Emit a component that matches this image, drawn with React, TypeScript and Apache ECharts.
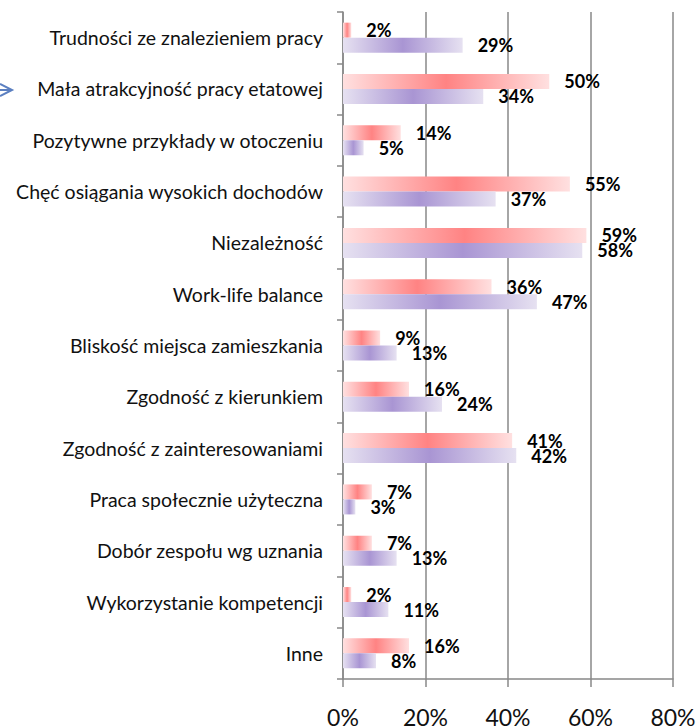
import React, { useEffect, useRef } from "react";
import * as echarts from "echarts";

const categories = [
  "Trudności ze znalezieniem pracy",
  "Mała atrakcyjność pracy etatowej",
  "Pozytywne przykłady w otoczeniu",
  "Chęć osiągania wysokich dochodów",
  "Niezależność",
  "Work-life balance",
  "Bliskość miejsca zamieszkania",
  "Zgodność z kierunkiem",
  "Zgodność z zainteresowaniami",
  "Praca społecznie użyteczna",
  "Dobór zespołu wg uznania",
  "Wykorzystanie kompetencji",
  "Inne",
];
const seriesPink = [2, 50, 14, 55, 59, 36, 9, 16, 41, 7, 7, 2, 16];
const seriesPurple = [29, 34, 5, 37, 58, 47, 13, 24, 42, 3, 13, 11, 8];
const xTicks = [0, 20, 40, 60, 80];

const FONT = "Lato, 'Noto Sans', sans-serif";

function grad(end: string, mid: string) {
  return new echarts.graphic.LinearGradient(0, 0, 1, 0, [
    { offset: 0, color: end },
    { offset: 0.5, color: mid },
    { offset: 1, color: end },
  ]);
}

export default function App() {
  const ref = useRef<HTMLDivElement>(null);
  useEffect(() => {
    if (!ref.current) return;
    const chart = echarts.init(ref.current, null, { renderer: "svg" });
    const labelCfg = {
      show: true,
      position: "right",
      distance: 15,
      formatter: "{c}%",
      color: "#000",
      fontWeight: "bold",
      fontSize: 18,
      fontFamily: FONT,
    };
    chart.setOption({
      animation: false,
      backgroundColor: "#fff",
      grid: { left: 343, right: 26, top: 12, bottom: 46, containLabel: false },
      xAxis: {
        type: "value",
        min: xTicks[0],
        max: xTicks[xTicks.length - 1],
        interval: 20,
        axisLine: { show: true, lineStyle: { color: "#888", width: 1.5 } },
        axisTick: { show: true, length: 8, lineStyle: { color: "#888", width: 1.5 } },
        splitLine: { show: true, lineStyle: { color: "#888", width: 1.5 } },
        axisLabel: {
          formatter: "{value}%",
          fontSize: 23,
          color: "#111",
          fontFamily: FONT,
          margin: 26,
        },
      },
      yAxis: {
        type: "category",
        inverse: true,
        data: categories,
        axisLine: { show: true, lineStyle: { color: "#888", width: 1.5 } },
        axisTick: { show: true, length: 6, alignWithLabel: false, lineStyle: { color: "#888", width: 1.5 } },
        axisLabel: { fontSize: 19.5, color: "#111", fontFamily: FONT, margin: 20 },
      },
      series: [
        {
          type: "bar",
          data: seriesPink,
          barWidth: 15,
          barGap: "0%",
          itemStyle: { color: grad("#ffe0e0", "#ff8383") },
          label: labelCfg,
        },
        {
          type: "bar",
          data: seriesPurple,
          barWidth: 15,
          barGap: "0%",
          itemStyle: { color: grad("#e6e1f1", "#a995d3") },
          label: labelCfg,
        },
      ],
      graphic: [
        {
          type: "polyline",
          shape: { points: [[0, 84], [12, 90], [0, 96]] },
          style: { stroke: "#5b7fc0", lineWidth: 2, fill: "none" },
        },
        {
          type: "line",
          shape: { x1: 0, y1: 90, x2: 10, y2: 90 },
          style: { stroke: "#5b7fc0", lineWidth: 2 },
        },
      ],
    });
    return () => chart.dispose();
  }, []);
  return (
    <div
      ref={ref}
      style={{ position: "fixed", left: 0, top: 0, width: 699, height: 728 }}
    />
  );
}
